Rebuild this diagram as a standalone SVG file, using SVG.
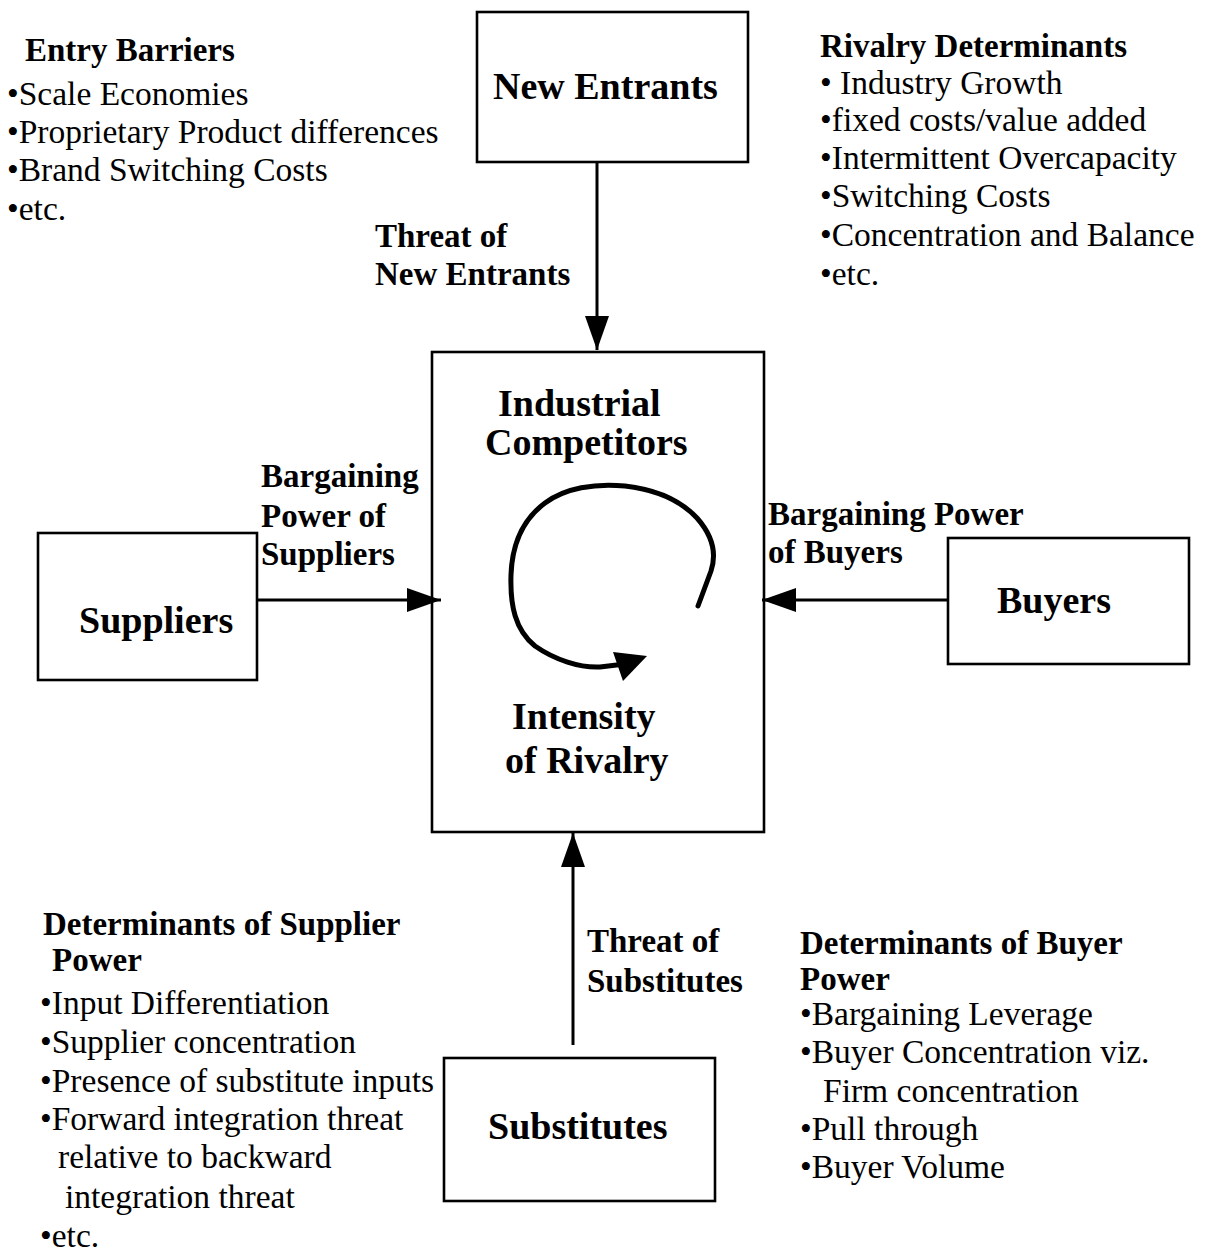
<svg xmlns="http://www.w3.org/2000/svg" width="1218" height="1252" viewBox="0 0 1218 1252">
  <style>
    text { font-family: "Liberation Serif", "Times New Roman", serif; fill: #000; }
    .b { font-weight: bold; font-size: 33px; }
    .r { font-size: 33.5px; }
    .t { font-weight: bold; font-size: 38px; }
    .box { fill: none; stroke: #000; stroke-width: 2.6; }
    .edge { fill: none; stroke: #000; stroke-width: 3; }
  </style>
  <defs>
    <marker id="head" viewBox="0 0 34 24" refX="34" refY="12" markerWidth="34" markerHeight="24" markerUnits="userSpaceOnUse" orient="auto">
      <path d="M0,0 L34,12 L0,24 z" fill="#000"/>
    </marker>
  </defs>
  <rect width="1218" height="1252" fill="#fff"/>

  <!-- side notes -->
  <g id="entry-barriers">
    <text class="b" x="25" y="61">Entry Barriers</text>
    <text class="r" x="7" y="105">•Scale Economies</text>
    <text class="r" x="7" y="143">•Proprietary Product differences</text>
    <text class="r" x="7" y="181">•Brand Switching Costs</text>
    <text class="r" x="7" y="220">•etc.</text>
  </g>
  <g id="rivalry-determinants">
    <text class="b" x="820" y="57">Rivalry Determinants</text>
    <text class="r" x="820" y="94">• Industry Growth</text>
    <text class="r" x="820" y="131">•fixed costs/value added</text>
    <text class="r" x="820" y="169">•Intermittent Overcapacity</text>
    <text class="r" x="820" y="207">•Switching Costs</text>
    <text class="r" x="820" y="246">•Concentration and Balance</text>
    <text class="r" x="820" y="285">•etc.</text>
  </g>
  <g id="supplier-determinants">
    <text class="b" x="43" y="935">Determinants of Supplier</text>
    <text class="b" x="52" y="971">Power</text>
    <text class="r" x="40" y="1014">•Input Differentiation</text>
    <text class="r" x="40" y="1053">•Supplier concentration</text>
    <text class="r" x="40" y="1092">•Presence of substitute inputs</text>
    <text class="r" x="40" y="1130">•Forward integration threat</text>
    <text class="r" x="58" y="1168">relative to backward</text>
    <text class="r" x="65" y="1208">integration threat</text>
    <text class="r" x="40" y="1247">•etc.</text>
  </g>
  <g id="buyer-determinants">
    <text class="b" x="800" y="954">Determinants of Buyer</text>
    <text class="b" x="800" y="990">Power</text>
    <text class="r" x="800" y="1025">•Bargaining Leverage</text>
    <text class="r" x="800" y="1063">•Buyer Concentration viz.</text>
    <text class="r" x="823" y="1102">Firm concentration</text>
    <text class="r" x="800" y="1140">•Pull through</text>
    <text class="r" x="800" y="1178">•Buyer Volume</text>
  </g>

  <!-- nodes -->
  <g id="new-entrants">
    <rect class="box" x="477" y="12" width="271" height="150"/>
    <text class="t" x="493" y="99">New Entrants</text>
  </g>
  <g id="industrial-competitors">
    <rect class="box" x="432" y="352" width="332" height="480"/>
    <text class="t" x="498" y="416">Industrial</text>
    <text class="t" x="485" y="455">Competitors</text>
    <path d="M698,606 L711,571 C717,553 712,535 697,518 C682,502 660,490 625,486 C595,483 565,488 545,503 C522,520 512,545 511,575 C510,605 515,630 535,646 C555,660 580,668 600,667 L625,664" fill="none" stroke="#000" stroke-width="5" stroke-linecap="round" stroke-linejoin="round"/>
    <polygon points="647,656 613,652 623,681" fill="#000"/>
    <text class="t" x="512" y="729">Intensity</text>
    <text class="t" x="505" y="773">of Rivalry</text>
  </g>
  <g id="suppliers">
    <rect class="box" x="38" y="533" width="219" height="147"/>
    <text class="t" x="79" y="633">Suppliers</text>
  </g>
  <g id="buyers">
    <rect class="box" x="948" y="538" width="241" height="126"/>
    <text class="t" x="997" y="613">Buyers</text>
  </g>
  <g id="substitutes">
    <rect class="box" x="444" y="1058" width="271" height="143"/>
    <text class="t" x="488" y="1139">Substitutes</text>
  </g>

  <!-- connectors -->
  <g id="connectors">
    <line class="edge" x1="597" y1="162" x2="597" y2="350" marker-end="url(#head)"/>
    <line class="edge" x1="573" y1="1045" x2="573" y2="833" marker-end="url(#head)"/>
    <line class="edge" x1="257" y1="600" x2="441" y2="600" marker-end="url(#head)"/>
    <line class="edge" x1="948" y1="600" x2="762" y2="600" marker-end="url(#head)"/>
    <text class="b" x="375" y="247">Threat of</text>
    <text class="b" x="375" y="285">New Entrants</text>
    <text class="b" x="261" y="487">Bargaining</text>
    <text class="b" x="261" y="527">Power of</text>
    <text class="b" x="261" y="565">Suppliers</text>
    <text class="b" x="768" y="525">Bargaining Power</text>
    <text class="b" x="768" y="563">of Buyers</text>
    <text class="b" x="587" y="952">Threat of</text>
    <text class="b" x="587" y="992">Substitutes</text>
  </g>
</svg>
